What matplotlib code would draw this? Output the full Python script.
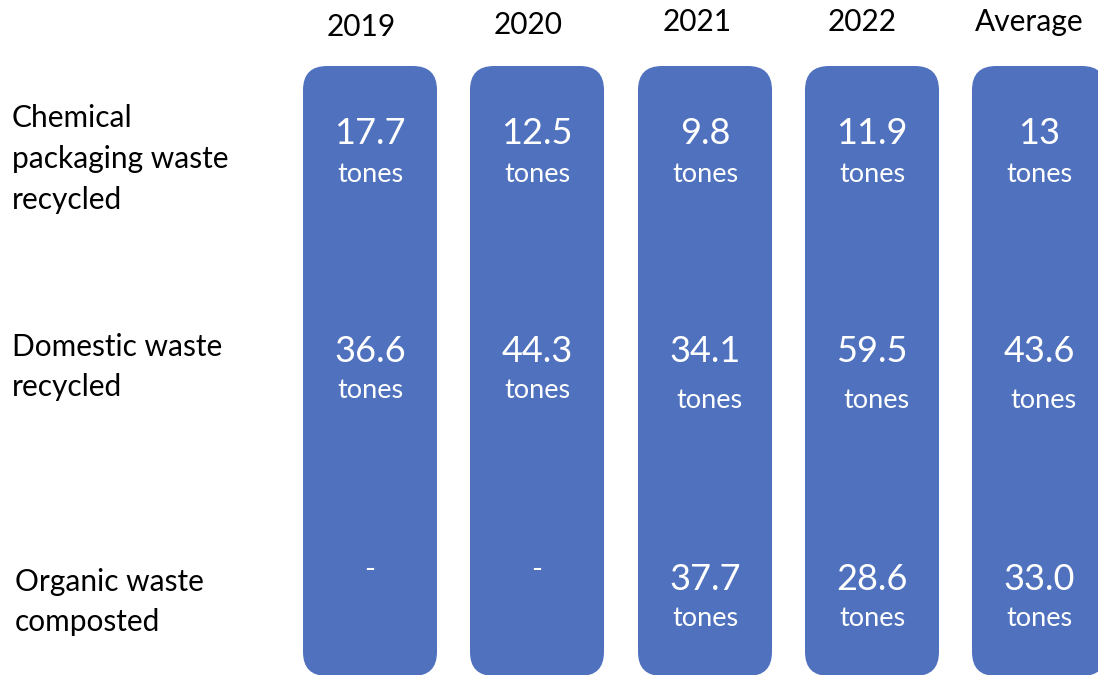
import matplotlib
matplotlib.use("Agg")
import matplotlib.pyplot as plt
from matplotlib.patches import FancyBboxPatch

# Daten
years = ["2019", "2020", "2021", "2022", "Average"]
rows = ["Chemical\npackaging waste\nrecycled", "Domestic waste\nrecycled", "Organic waste\ncomposted"]
chemical = ["17.7", "12.5", "9.8", "11.9", "13"]
domestic = ["36.6", "44.3", "34.1", "59.5", "43.6"]
organic = ["-", "-", "37.7", "28.6", "33.0"]
values = [chemical, domestic, organic]
unit = "tones"

# Layout (Pixel)
W, H = 1098, 675
blue = "#5072BE"
col_left = [303, 470, 638, 805, 972]
col_w = 134
col_top, col_bottom = 66, 676
header_x = [361, 528, 697, 862, 1029]
header_y = [27, 25, 22, 22, 22]
row_label_x = [12, 12, 15]
row_label_y = [159, 367, 602]
value_y = [133, 351, 579]
unit_y = [[174] * 5, [391, 391, 400, 400, 400], [619] * 5]
unit_dx = [[0] * 5, [0, 0, 4, 4, 4], [0] * 5]
font = "Lato"

fig = plt.figure(figsize=(W / 100, H / 100), dpi=100)
ax = fig.add_axes([0, 0, 1, 1])
ax.set_xlim(0, W)
ax.set_ylim(H, 0)
ax.axis("off")

for i, year in enumerate(years):
    x0 = col_left[i]
    box = FancyBboxPatch((x0 + 24, col_top + 24), col_w - 48, col_bottom - col_top - 48,
                         boxstyle="round,pad=24", fc=blue, ec="none")
    ax.add_patch(box)
    ax.text(header_x[i], header_y[i], year, ha="center", va="center",
            fontsize=21.5, family=font, color="black")
    cx = x0 + col_w / 2
    for r in range(len(rows)):
        v = values[r][i]
        if v == "-":
            ax.text(cx, value_y[r] - 9, v, ha="center", va="center",
                    fontsize=21, family=font, color="white")
            continue
        ax.text(cx, value_y[r], v, ha="center", va="center",
                fontsize=26, family=font, color="white")
        ax.text(cx + unit_dx[r][i], unit_y[r][i], unit, ha="center", va="center",
                fontsize=19.5, family=font, color="white")

for r, label in enumerate(rows):
    ax.text(row_label_x[r], row_label_y[r], label, ha="left", va="center",
            fontsize=21.5, family=font, color="black", linespacing=1.56)

fig.savefig("out.png", dpi=100)
